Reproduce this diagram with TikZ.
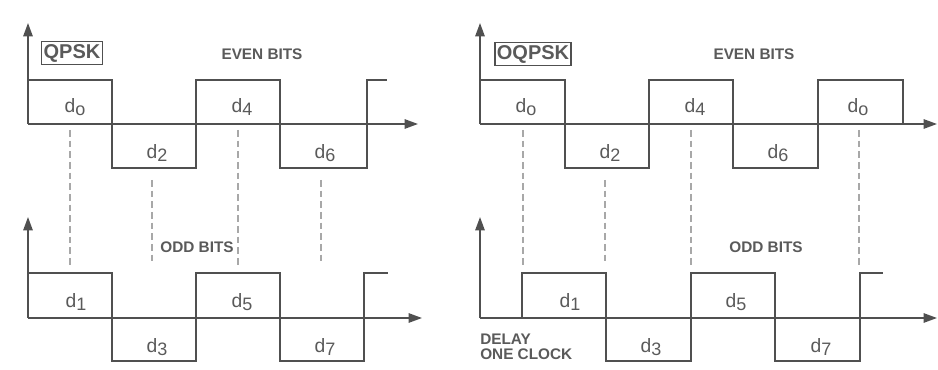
\documentclass[tikz,border=0pt]{standalone}
\usepackage{fontspec}
\setmainfont{Liberation Sans}
\usetikzlibrary{arrows.meta}

\definecolor{linegray}{HTML}{505050}
\definecolor{textgray}{HTML}{5A5A5A}
\definecolor{guidegray}{HTML}{A8A8A8}
\newcommand{\dbit}[1]{d\raisebox{-2.6pt}{\fontsize{13.5}{13.5}\selectfont #1}}

\begin{document}
\begin{tikzpicture}[x=0.75pt, y=-0.75pt,
  wave/.style={draw=linegray, line width=1.3pt},
  axis/.style={draw=linegray, line width=1.3pt, -{Triangle[length=10pt,width=7pt]}},
  guide/.style={draw=guidegray, line width=0.9pt, dash pattern=on 5pt off 3pt},
  dlabel/.style={font=\fontsize{14.5}{16}\selectfont, text=textgray, inner sep=0pt},
  title/.style={draw=linegray, line width=1pt, font=\bfseries\fontsize{15}{17}\selectfont,
                text=textgray, inner xsep=1.5pt, inner ysep=2pt},
  bits/.style={font=\bfseries\fontsize{11.5}{13}\selectfont, text=textgray, align=left}
]
\useasboundingbox (0,0) rectangle (938,370);

% QPSK
\draw[axis] (28,124) -- (28,23);
\draw[axis] (28,124) -- (418,124);
\draw[wave] (28,80) -- (112,80) -- (112,168) -- (196,168) -- (196,80) -- (280,80)
  -- (280,168) -- (367,168) -- (367,80) -- (387,80);
\draw[axis] (28,318) -- (28,217);
\draw[axis] (28,318) -- (422,318);
\draw[wave] (28,273) -- (112,273) -- (112,361) -- (196,361) -- (196,273) -- (280,273)
  -- (280,361) -- (364,361) -- (364,273) -- (388,273);

\foreach \x/\ya in {70/130, 152/180, 238/130, 321/180}
  \draw[guide] (\x,\ya) -- (\x,265);

\node[title] (qpsk) at (72,53) {QPSK};
\node[bits] (evenq) at (262,54) {EVEN BITS};
\node[bits] (oddq) at (197,247) {ODD BITS};

\foreach \n/\x/\y/\s in {q0/75/107/o, q2/157/153/2, q4/242/107/4, q6/325/153/6,
                         q1/76/302/1, q3/157/347/3, q5/242/302/5, q7/325/347/7}
  \node[dlabel] (\n) at (\x,\y) {\dbit{\s}};

% OQPSK
\draw[axis] (480,124) -- (480,23);
\draw[axis] (480,124) -- (937,124);
\draw[wave] (480,80) -- (565,80) -- (565,168) -- (649,168) -- (649,80) -- (733,80)
  -- (733,168) -- (818,168) -- (818,80) -- (903,80) -- (903,124);
\draw[axis] (480,318) -- (480,217);
\draw[axis] (480,318) -- (937,318);
\draw[wave] (522,318) -- (522,273) -- (606,273) -- (606,361) -- (691,361) -- (691,273)
  -- (775,273) -- (775,361) -- (860,361) -- (860,273) -- (883,273);

\foreach \x/\ya in {523/130, 605/180, 691/130, 859/130}
  \draw[guide] (\x,\ya) -- (\x,265);

\node[title] (oqpsk) at (533,54) {OQPSK};
\node[bits] (evenoq) at (754,54) {EVEN BITS};
\node[bits] (oddoq) at (766,247) {ODD BITS};
\node[bits, anchor=west, inner sep=0pt] (delay) at (480,347) {DELAY\\[-1.5pt]ONE CLOCK};

\foreach \n/\x/\y/\s in {o0/526/107/o, o2/610/153/2, o4/695/107/4, o6/778/153/6, o8/858/107/o,
                         o1/570/302/1, o3/651/347/3, o5/736/302/5, o7/821/347/7}
  \node[dlabel] (\n) at (\x,\y) {\dbit{\s}};
\end{tikzpicture}
\end{document}
